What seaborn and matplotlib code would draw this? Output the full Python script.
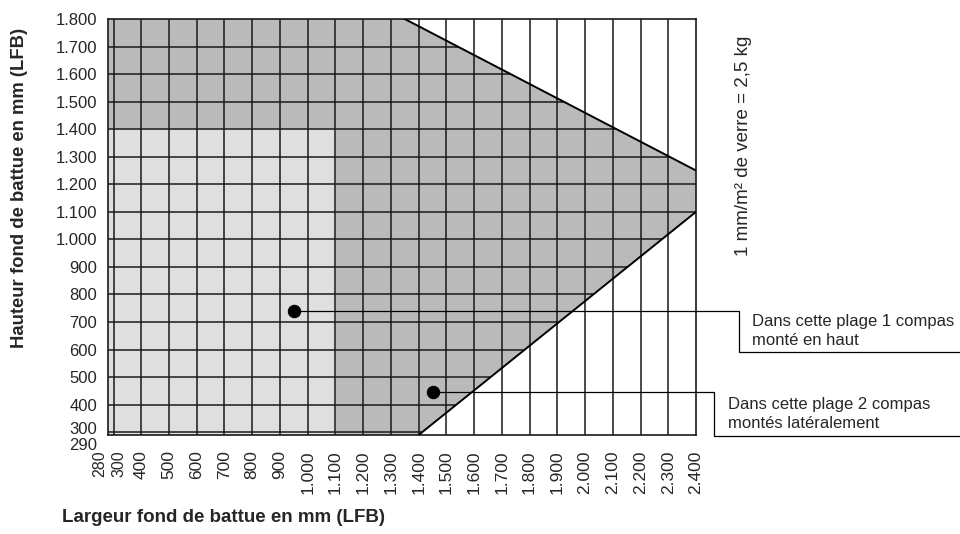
import matplotlib
matplotlib.use("Agg")
import matplotlib.pyplot as plt
import matplotlib.lines as mlines
import matplotlib.transforms as mtrans
from matplotlib.patches import Polygon
import seaborn as sns
import pandas as pd

# values
x_ticks = [280, 300, 400, 500, 600, 700, 800, 900, 1000, 1100, 1200, 1300,
           1400, 1500, 1600, 1700, 1800, 1900, 2000, 2100, 2200, 2300, 2400]
y_ticks = [290, 300, 400, 500, 600, 700, 800, 900, 1000, 1100, 1200, 1300,
           1400, 1500, 1600, 1700, 1800]

# zone 1 compas en haut (gris clair)
light_x = [280, 1100, 1100, 280]
light_y = [290, 290, 1400, 1400]
# zone 2 compas (gris foncé)
dark_x = [280, 280, 1350, 2400, 2400, 1400, 1100, 1100]
dark_y = [1400, 1800, 1800, 1250, 1100, 290, 290, 1400]
# whole shaded area (for clipping the horizontal grid)
zone_x = [280, 280, 1350, 2400, 2400, 1400]
zone_y = [290, 1800, 1800, 1250, 1100, 290]

# limit lines
top_line_x = [1350, 2400]
top_line_y = [1800, 1250]
bottom_line_x = [1400, 2400]
bottom_line_y = [290, 1100]

# example points + callout texts
pts = pd.DataFrame({"largeur": [950, 1450], "hauteur": [740, 445]})
callouts = ["Dans cette plage 1 compas\nmonté en haut",
            "Dans cette plage 2 compas\nmontés latéralement"]


def fmt(v):
    return f"{v:,}".replace(",", ".")


sns.set_theme(style="white")
plt.rcParams["font.family"] = ["Liberation Sans", "DejaVu Sans"]

fig = plt.figure(figsize=(9.6, 5.34), dpi=100)
ax = fig.add_axes([108 / 960, 1 - 435 / 534, 588 / 960, 416 / 534])
ax.set_xlim(280, 2400)
ax.set_ylim(290, 1800)

ax.fill(light_x, light_y, color="#dfdfdf", lw=0, zorder=1)
ax.fill(dark_x, dark_y, color="#bababa", lw=0, zorder=1)

# grid
clip = Polygon(list(zip(zone_x, zone_y)), closed=True, transform=ax.transData)
for y in y_ticks[1:-1]:
    ln, = ax.plot([280, 2400], [y, y], color="#1a1a1a", lw=1.1, zorder=2)
    ln.set_clip_path(clip)
for x in x_ticks[1:-1]:
    ax.axvline(x, color="#1a1a1a", lw=1.1, zorder=2)

sns.lineplot(x=top_line_x, y=top_line_y, color="black", lw=1.4, ax=ax, zorder=3)
sns.lineplot(x=bottom_line_x, y=bottom_line_y, color="black", lw=1.4, ax=ax, zorder=3)
sns.scatterplot(data=pts, x="largeur", y="hauteur", color="black", s=80,
                edgecolor="black", ax=ax, zorder=5)

for s in ax.spines.values():
    s.set_visible(True)
    s.set_color("#1a1a1a")
    s.set_linewidth(1.2)

ax.set_xticks(x_ticks)
ax.set_xticklabels([fmt(v) for v in x_ticks], rotation=90, fontsize=12.5)
ax.set_yticks(y_ticks)
ax.set_yticklabels([fmt(v) for v in y_ticks], fontsize=12)
ax.tick_params(axis="both", length=0)
ax.tick_params(axis="x", pad=11)
ax.tick_params(axis="y", pad=8)

# the first ticks sit very close together, push them apart a bit
def shift(lbl, dx, dy):
    lbl.set_transform(lbl.get_transform() + mtrans.ScaledTranslation(dx / 100, dy / 100, fig.dpi_scale_trans))

xl = ax.get_xticklabels()
xl[0].set_fontsize(11.5)
xl[1].set_fontsize(11.5)
shift(xl[0], -8, 0)
shift(xl[1], 5, 0)
yl = ax.get_yticklabels()
shift(yl[0], 0, -9)
shift(yl[1], 0, 4)

ax.set_xlabel("")
ax.set_ylabel("")
fig.text(62 / 960, 1 - 518 / 534, "Largeur fond de battue en mm (LFB)",
         fontsize=13.5, fontweight="bold", ha="left", va="center")
fig.text(20 / 960, 1 - 188 / 534, "Hauteur fond de battue en mm (LFB)",
         fontsize=13.3, fontweight="bold", rotation=90, ha="center", va="center")
fig.text(743 / 960, 1 - 146 / 534, "1 mm/m² de verre = 2,5 kg",
         fontsize=13.5, rotation=90, ha="center", va="center")

# callout leaders
elbow_x = [739 / 960, 714 / 960]
elbow_y = [1 - 352 / 534, 1 - 436 / 534]
text_pos = [(752 / 960, 1 - 314 / 534), (728 / 960, 1 - 397 / 534)]
to_fig = fig.transFigure.inverted()
for i in range(2):
    px, py = to_fig.transform(ax.transData.transform((pts.largeur[i], pts.hauteur[i])))
    fig.add_artist(mlines.Line2D([px, elbow_x[i], elbow_x[i], 1.0],
                                 [py, py, elbow_y[i], elbow_y[i]],
                                 color="black", lw=0.9, zorder=4,
                                 transform=fig.transFigure))
    fig.text(text_pos[i][0], text_pos[i][1], callouts[i], fontsize=12,
             ha="left", va="top", linespacing=1.35)

fig.savefig("out.png", dpi=100)
